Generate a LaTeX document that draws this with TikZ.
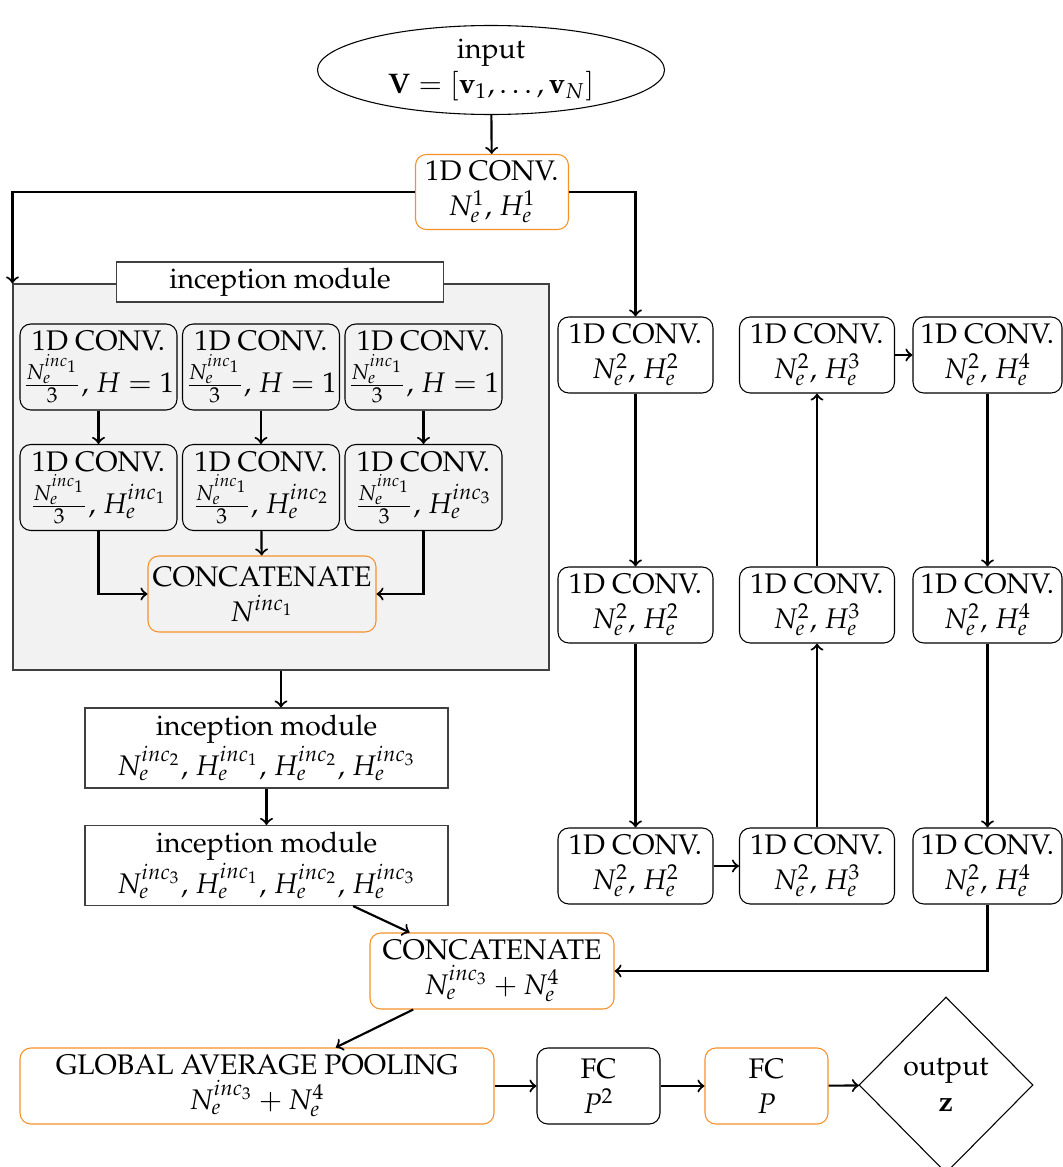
\documentclass[tikz,border=0pt]{standalone}
\usepackage[T1]{fontenc}
\usepackage{mathpazo}
\usetikzlibrary{shapes.geometric}
\newcommand{\PX}{0.3704pt}
\definecolor{orng}{RGB}{245,145,40}
\begin{document}
\begin{tikzpicture}[x=\PX, y=-\PX,
  every node/.style={font=\fontsize{10.5}{13}\selectfont},
  box/.style={draw, thin, rounded corners=4pt, align=center, inner sep=1pt,
    minimum width=155*\PX, minimum height=76*\PX},
  obox/.style={box, draw=orng},
  ibox/.style={box, minimum width=157*\PX, minimum height=86*\PX},
  sbox/.style={draw=black!75, thin, align=center, inner sep=1pt},
  conn/.style={thick, ->}]
\useasboundingbox (0,0) rectangle (1063,1167);

% input
\node[ellipse, draw, thin, align=center, inner sep=0pt,
  minimum width=347*\PX, minimum height=89*\PX] (in) at (491,70)
  {input\\ $\mathbf{V} = [\mathbf{v}_1, \dots, \mathbf{v}_N]$};
\node[obox, minimum width=153*\PX, minimum height=75*\PX] (conv1) at (492,192)
  {1D CONV.\\ $N_e^1$, $H_e^1$};

% inception module (big)
\node[draw=black!75, thin, fill=black!5, minimum width=536*\PX,
  minimum height=386*\PX, inner sep=0pt] (incbig) at (281,477) {};
\node[sbox, fill=white, minimum width=327*\PX, minimum height=40*\PX]
  (inctitle) at (280,282) {inception module};

\node[ibox] (r1a) at (98.5,367) {1D CONV.\\ $\frac{N_e^{inc_1}}{3}$, $H=1$};
\node[ibox] (r1b) at (261,367)  {1D CONV.\\ $\frac{N_e^{inc_1}}{3}$, $H=1$};
\node[ibox] (r1c) at (423.5,367) {1D CONV.\\ $\frac{N_e^{inc_1}}{3}$, $H=1$};
\node[ibox] (r2a) at (98.5,487.5) {1D CONV.\\ $\frac{N_e^{inc_1}}{3}$, $H_e^{inc_1}$};
\node[ibox] (r2b) at (261,487.5)  {1D CONV.\\ $\frac{N_e^{inc_1}}{3}$, $H_e^{inc_2}$};
\node[ibox] (r2c) at (423.5,487.5) {1D CONV.\\ $\frac{N_e^{inc_1}}{3}$, $H_e^{inc_3}$};
\node[obox, minimum width=228*\PX, minimum height=76*\PX] (iconcat) at (262,594)
  {CONCATENATE\\ $N^{inc_1}$};

% inception modules 2 and 3
\node[sbox, minimum width=363*\PX, minimum height=80*\PX] (inc2) at (266.5,748)
  {inception module\\ $N_e^{inc_2}$, $H_e^{inc_1}$, $H_e^{inc_2}$, $H_e^{inc_3}$};
\node[sbox, minimum width=363*\PX, minimum height=80*\PX] (inc3) at (266.5,865.5)
  {inception module\\ $N_e^{inc_3}$, $H_e^{inc_1}$, $H_e^{inc_2}$, $H_e^{inc_3}$};

% right columns
\node[box] (A1) at (635.5,355) {1D CONV.\\ $N_e^2$, $H_e^2$};
\node[box] (A2) at (635.5,605) {1D CONV.\\ $N_e^2$, $H_e^2$};
\node[box] (A3) at (635.5,866) {1D CONV.\\ $N_e^2$, $H_e^2$};
\node[box] (B1) at (817,355) {1D CONV.\\ $N_e^2$, $H_e^3$};
\node[box] (B2) at (817,605) {1D CONV.\\ $N_e^2$, $H_e^3$};
\node[box] (B3) at (817,866) {1D CONV.\\ $N_e^2$, $H_e^3$};
\node[box, minimum width=149*\PX] (C1) at (987.5,355) {1D CONV.\\ $N_e^2$, $H_e^4$};
\node[box, minimum width=149*\PX] (C2) at (987.5,605) {1D CONV.\\ $N_e^2$, $H_e^4$};
\node[box, minimum width=149*\PX] (C3) at (987.5,866) {1D CONV.\\ $N_e^2$, $H_e^4$};

% bottom
\node[obox, minimum width=244*\PX] (concat) at (492,971)
  {CONCATENATE\\ $N_e^{inc_3} + N_e^4$};
\node[obox, minimum width=474*\PX] (gap) at (257,1086)
  {GLOBAL AVERAGE POOLING\\ $N_e^{inc_3} + N_e^4$};
\node[box, minimum width=123*\PX] (fc1) at (598.5,1086) {FC\\ $P^2$};
\node[obox, minimum width=123*\PX] (fc2) at (766.5,1086) {FC\\ $P$};
\node[diamond, draw, thin, align=center, inner sep=0pt,
  minimum width=174*\PX, minimum height=176*\PX] (out) at (946,1085)
  {output\\ $\mathbf{z}$};

% connectors
\draw[conn] (in) -- (conv1);
\draw[conn] (conv1.west) -| (incbig.north west);
\draw[conn] (conv1.east) -| (A1.north);
\draw[conn] (r1a) -- (r2a);
\draw[conn] (r1b) -- (r2b);
\draw[conn] (r1c) -- (r2c);
\draw[conn] (r2b) -- (iconcat);
\draw[conn] (r2a.south) |- (iconcat.west);
\draw[conn] (r2c.south) |- (iconcat.east);
\draw[conn] (incbig.south) -- (incbig.south |- inc2.north);
\draw[conn] (inc2) -- (inc3);
\draw[conn] (inc3) -- (concat);
\draw[conn] (A1) -- (A2);
\draw[conn] (A2) -- (A3);
\draw[conn] (A3) -- (B3);
\draw[conn] (B3) -- (B2);
\draw[conn] (B2) -- (B1);
\draw[conn] (B1) -- (C1);
\draw[conn] (C1) -- (C2);
\draw[conn] (C2) -- (C3);
\draw[conn] (C3.south) |- (concat.east);
\draw[conn] (concat) -- (gap);
\draw[conn] (gap) -- (fc1);
\draw[conn] (fc1) -- (fc2);
\draw[conn] (fc2) -- (out);
\end{tikzpicture}
\end{document}
